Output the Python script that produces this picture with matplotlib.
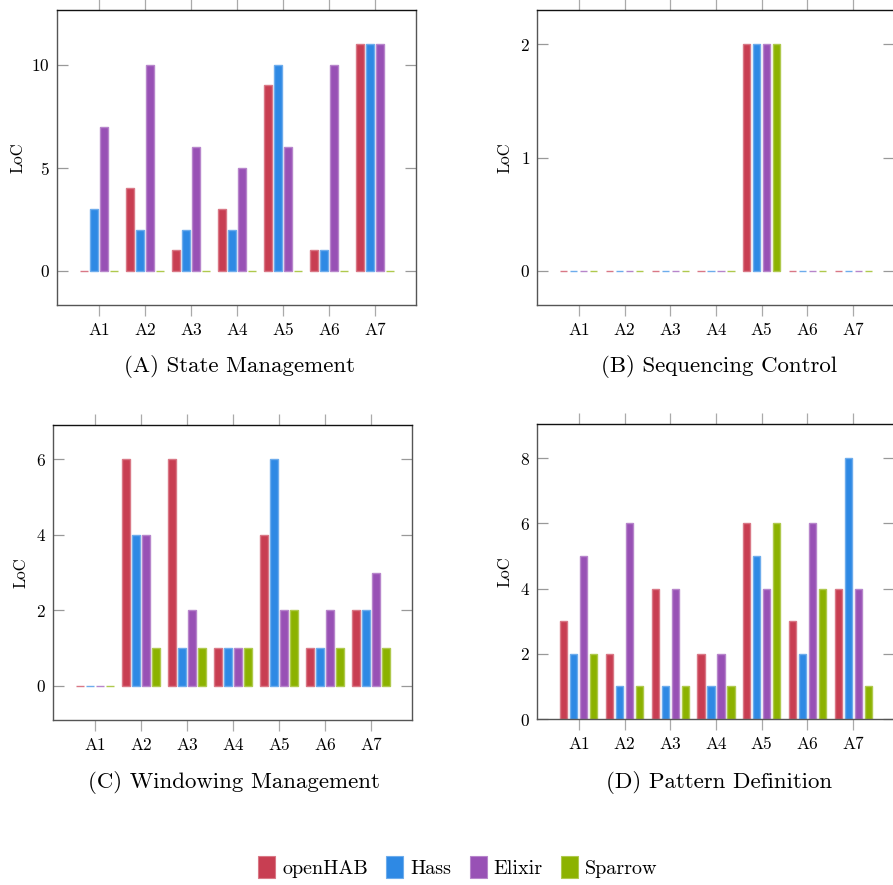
import numpy as np
import matplotlib
matplotlib.use("Agg")
import matplotlib.pyplot as plt
from matplotlib.patches import Patch
from matplotlib.colors import to_rgb

plt.rcParams['font.family'] = 'serif'
plt.rcParams['font.serif'] = ['cmr10']
plt.rcParams['mathtext.fontset'] = 'cm'
plt.rcParams['axes.formatter.use_mathtext'] = True

# --- data ---
categories = ["A1", "A2", "A3", "A4", "A5", "A6", "A7"]
series = ["openHAB", "Hass", "Elixir", "Sparrow"]
colors = ["#C83E52", "#2E89E4", "#9851B5", "#8CB200"]

state_openhab = [0, 4, 1, 3, 9, 1, 11]
state_hass = [3, 2, 2, 2, 10, 1, 11]
state_elixir = [7, 10, 6, 5, 6, 10, 11]
state_sparrow = [0, 0, 0, 0, 0, 0, 0]

seq_openhab = [0, 0, 0, 0, 2, 0, 0]
seq_hass = [0, 0, 0, 0, 2, 0, 0]
seq_elixir = [0, 0, 0, 0, 2, 0, 0]
seq_sparrow = [0, 0, 0, 0, 2, 0, 0]

win_openhab = [0, 6, 6, 1, 4, 1, 2]
win_hass = [0, 4, 1, 1, 6, 1, 2]
win_elixir = [0, 4, 2, 1, 2, 2, 3]
win_sparrow = [0, 1, 1, 1, 2, 1, 1]

pat_openhab = [3, 2, 4, 2, 6, 3, 4]
pat_hass = [2, 1, 1, 1, 5, 2, 8]
pat_elixir = [5, 6, 4, 2, 4, 6, 4]
pat_sparrow = [2, 1, 1, 1, 6, 4, 1]

panels = [
    ("(A) State Management", [state_openhab, state_hass, state_elixir, state_sparrow], (-1.65, 12.65), [0, 5, 10]),
    ("(B) Sequencing Control", [seq_openhab, seq_hass, seq_elixir, seq_sparrow], (-0.3, 2.3), [0, 1, 2]),
    ("(C) Windowing Management", [win_openhab, win_hass, win_elixir, win_sparrow], (-0.9, 6.9), [0, 2, 4, 6]),
    ("(D) Pattern Definition", [pat_openhab, pat_hass, pat_elixir, pat_sparrow], (0, 9.05), [0, 2, 4, 6, 8]),
]

W, H = 893, 885
# axes boxes in pixels: left, right, top, bottom
boxes = [(57, 416, 10, 305), (537, 894, 10, 305), (53, 412, 425, 720), (537, 894, 424, 719)]
captions_xy = [(239, 367), (719, 367), (234, 782), (719, 782)]
label_x = [-0.089, -0.07, -0.067, -0.07]


def tint(c, f=0.5):
    r, g, b = to_rgb(c)
    return (r + (1 - r) * f, g + (1 - g) * f, b + (1 - b) * f)


fig = plt.figure(figsize=(W / 100, H / 100), dpi=100)

x = np.arange(1, len(categories) + 1)
pitch = 0.218
width = 0.155

for i, (title, data, ylim, yticks) in enumerate(panels):
    l, r, t, b = boxes[i]
    ax = fig.add_axes([l / W, 1 - b / H, (r - l) / W, (b - t) / H])
    for k, vals in enumerate(data):
        ax.bar(x + (k - 1.5) * pitch, vals, width=width, color=colors[k],
               edgecolor=tint(colors[k], 0.3), linewidth=1.0, zorder=2)
    ax.set_xlim(1 - 42 / 46, 7 + 41 / 46)
    ax.set_ylim(*ylim)
    ax.set_xticks(x)
    ax.set_xticklabels(categories)
    ax.set_yticks(yticks)
    ax.tick_params(axis='y', direction='in', length=8, width=0.9, color='#999999',
                   labelsize=12.5, right=True, pad=5)
    ax.tick_params(axis='x', direction='out', length=8, width=0.9, color='#aaaaaa',
                   labelsize=12.5, top=True, pad=5)
    for side in ['left', 'right', 'bottom']:
        ax.spines[side].set_color('#555555')
        ax.spines[side].set_linewidth(1.0)
    ax.spines['top'].set_color('#111111')
    ax.spines['top'].set_linewidth(1.0)
    ax.set_ylabel("LoC", fontsize=12)
    ax.yaxis.set_label_coords(label_x[i], 0.5)
    cx, cy = captions_xy[i]
    fig.text(cx / W, 1 - cy / H, title, ha='center', va='center', fontsize=16.5)

handles = [Patch(facecolor=c, edgecolor=tint(c, 0.3), linewidth=0.8) for c in colors]
fig.legend(handles, series, loc='center', bbox_to_anchor=(458 / W, 1 - 867 / H),
           ncol=4, frameon=False, fontsize=14.5, handlelength=0.85, handleheight=1.25,
           handletextpad=0.35, columnspacing=0.9)

fig.savefig("out.png", dpi=100)
plt.close(fig)
